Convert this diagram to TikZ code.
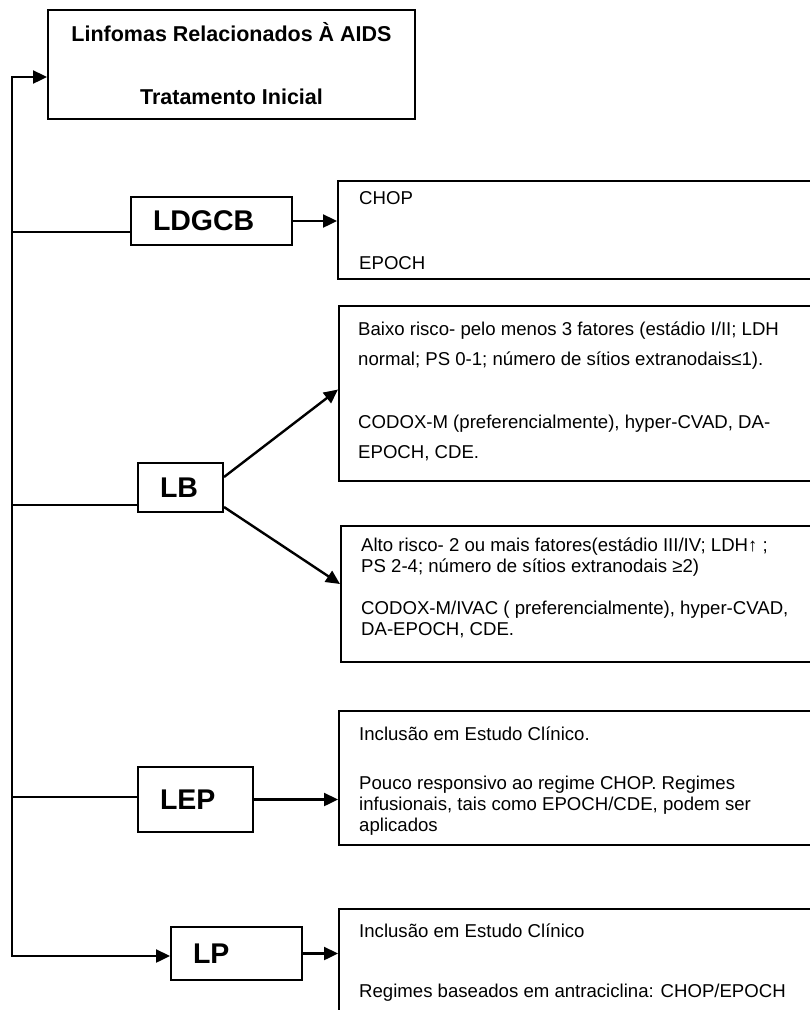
\documentclass[tikz,border=0pt]{standalone}
\usepackage{fontspec}
\setmainfont{Liberation Sans}
\usetikzlibrary{arrows.meta}
\begin{document}
\begin{tikzpicture}[x=1pt,y=-1pt,
  boxline/.style={line width=2pt},
  thin/.style={line width=1.6pt},
  conn/.style={line width=2.4pt},
  arr/.style={conn,-{Triangle[length=14pt,width=13pt]}},
  labelbox/.style={draw,boxline,rectangle,align=left,inner xsep=22pt,inner ysep=0pt,
    font=\bfseries\fontsize{28.5}{32}\selectfont},
  infobox/.style={draw,boxline,rectangle,anchor=north west,inner sep=0pt},
  txt/.style={anchor=base west,inner sep=0pt,font=\fontsize{18.6}{21}\selectfont}
]
\useasboundingbox (0,0) rectangle (810,1010);

% title box
\node[draw,boxline,rectangle,minimum width=367pt,minimum height=109pt,align=center,
  font=\bfseries\fontsize{21.5}{25}\selectfont] (top) at (231.5,64)
  {Linfomas Relacionados À AIDS\\[38pt]Tratamento Inicial};

% category boxes
\node[labelbox,text width=117pt,minimum height=48pt] (ldgcb) at (211.5,221) {LDGCB};
\node[labelbox,text width=41pt,minimum height=49pt] (lb) at (180.5,487.5) {LB};
\node[labelbox,text width=71pt,minimum height=65pt] (lep) at (195.5,799.5) {LEP};
\node[labelbox,text width=87pt,minimum height=53pt] (lp) at (236.5,953.5) {LP};

% information boxes
\node[infobox,minimum width=480pt,minimum height=98pt] (chop) at (337,180) {};
\node[txt] (chopt) at (359,204) {\begin{tabular}[t]{@{}l@{}}CHOP\\[44pt]EPOCH\end{tabular}};

\node[infobox,minimum width=480pt,minimum height=175pt] (low) at (338,305) {};
\node[txt] (lowt) at (358,335) {\begin{tabular}[t]{@{}l@{}}Baixo risco- pelo menos 3 fatores (estádio I/II; LDH\\[9pt]
normal; PS 0-1; número de sítios extranodais≤1).\\[42pt]
CODOX-M (preferencialmente), hyper-CVAD, DA-\\[9pt]
EPOCH, CDE.\end{tabular}};

\node[infobox,minimum width=480pt,minimum height=136pt] (high) at (340,525) {};
\node[txt] (hight) at (361,551) {\begin{tabular}[t]{@{}l@{}}Alto risco- 2 ou mais fatores(estádio III/IV; LDH↑ ;\\
PS 2-4; número de sítios extranodais ≥2)\\[21pt]
CODOX-M/IVAC ( preferencialmente), hyper-CVAD,\\
DA-EPOCH, CDE.\end{tabular}};

\node[infobox,minimum width=480pt,minimum height=134pt] (lepb) at (338,710) {};
\node[txt] (lept) at (359,740) {\begin{tabular}[t]{@{}l@{}}Inclusão em Estudo Clínico.\\[28pt]
Pouco responsivo ao regime CHOP. Regimes\\
infusionais, tais como EPOCH/CDE, podem ser\\
aplicados\end{tabular}};

\node[infobox,minimum width=480pt,minimum height=120pt] (lpb) at (338,908) {};
\node[txt] (lpt) at (359,937) {\begin{tabular}[t]{@{}l@{}}Inclusão em Estudo Clínico\\[39pt]
Regimes baseados em antraciclina: CHOP/EPOCH\end{tabular}};

% spine
\coordinate (st) at (12,77);
\coordinate (sb) at (12,956);
\coordinate (s1) at (12,232);
\coordinate (s2) at (12,505);
\coordinate (s3) at (12,797);
\draw[conn,line cap=rect] (sb) -- (st);
\draw[arr] (st) -- (st -| top.west);

% feeders
\draw[thin] (s1) -- (s1 -| ldgcb.west);
\draw[thin] (s2) -- (s2 -| lb.west);
\draw[thin] (s3) -- (s3 -| lep.west);
\draw[arr] (sb) -- (sb -| lp.west);

% outputs
\draw[arr] (ldgcb.east) -- (ldgcb.east -| chop.west);
\draw[arr] ([yshift=-15pt]lb.north east) -- ([yshift=4pt]low.west);
\draw[arr] ([yshift=6pt]lb.south east) -- ([yshift=10pt]high.west);
\draw[arr] (lep.east) -- (lep.east -| lepb.west);
\draw[arr] (lp.east) -- (lp.east -| lpb.west);
\end{tikzpicture}
\end{document}
